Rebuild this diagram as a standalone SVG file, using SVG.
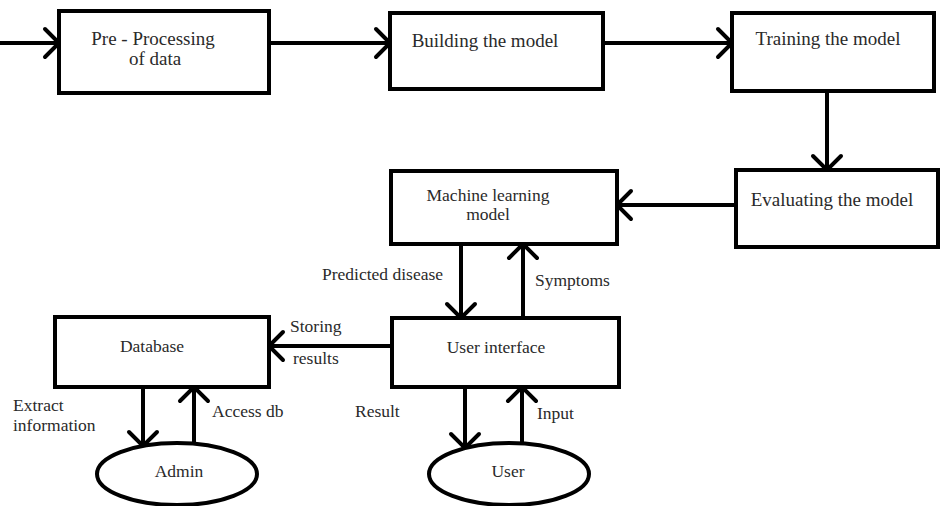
<svg xmlns="http://www.w3.org/2000/svg" width="941" height="506" viewBox="0 0 941 506">
<defs>
<marker id="chev" markerUnits="userSpaceOnUse" markerWidth="40" markerHeight="40" viewBox="-20 -20 40 40" refX="0" refY="0" orient="auto">
<path d="M-14,-14 L0,0 L-14,14" fill="none" stroke="#000" stroke-width="4" stroke-linecap="round" stroke-linejoin="miter"/>
</marker>
<style>
.box{fill:#fff;stroke:#000;stroke-width:4}
text{font-family:"Liberation Serif","DejaVu Serif","Times New Roman",serif;fill:#2a2a2a}
.t{font-size:19px}
.s{font-size:17.5px}
.mid{text-anchor:middle}
.c{fill:none;stroke:#000;stroke-width:4;marker-end:url(#chev)}
</style>
</defs>
<rect width="941" height="506" fill="#fff"/>
<g id="connectors">
<line class="c" x1="0" y1="43" x2="59" y2="43"/>
<line class="c" x1="269" y1="43" x2="390" y2="43"/>
<line class="c" x1="603" y1="43" x2="732" y2="43"/>
<line class="c" x1="827" y1="91" x2="827" y2="170"/>
<line class="c" x1="736" y1="205" x2="617" y2="205"/>
<line class="c" x1="461" y1="244" x2="461" y2="318"/>
<line class="c" x1="523" y1="318" x2="523" y2="244"/>
<line class="c" x1="392" y1="346" x2="269" y2="346"/>
<line class="c" x1="465" y1="387" x2="465" y2="448"/>
<line class="c" x1="522" y1="443" x2="522" y2="387"/>
<line class="c" x1="143" y1="387" x2="143" y2="446"/>
<line class="c" x1="194" y1="444" x2="194" y2="387"/>
<text class="s" x="322" y="280">Predicted disease</text>
<text class="s" x="535" y="286">Symptoms</text>
<text class="s" x="290" y="332">Storing</text>
<text class="s" x="293" y="364">results</text>
<text class="s" x="13" y="411">Extract</text>
<text class="s" x="13" y="431">information</text>
<text class="s" x="212" y="417">Access db</text>
<text class="s" x="355" y="417">Result</text>
<text class="s" x="537" y="419">Input</text>
</g>
<g id="preprocessing">
<rect class="box" x="59" y="11" width="210" height="82"/>
<text class="t mid" x="153" y="45">Pre - Processing</text>
<text class="t mid" x="155" y="65">of data</text>
</g>
<g id="building">
<rect class="box" x="390" y="13" width="213" height="76"/>
<text class="t mid" x="485" y="47">Building the model</text>
</g>
<g id="training">
<rect class="box" x="732" y="13" width="202" height="78"/>
<text class="t mid" x="828" y="45">Training the model</text>
</g>
<g id="evaluating">
<rect class="box" x="736" y="170" width="202" height="77"/>
<text class="t mid" x="832" y="206">Evaluating the model</text>
</g>
<g id="ml">
<rect class="box" x="391" y="171" width="226" height="73"/>
<text class="s mid" x="488" y="201">Machine learning</text>
<text class="s mid" x="488" y="220">model</text>
</g>
<g id="ui">
<rect class="box" x="392" y="318" width="227" height="69"/>
<text class="s mid" x="496" y="353">User interface</text>
</g>
<g id="database">
<rect class="box" x="55" y="317" width="214" height="70"/>
<text class="s mid" x="152" y="352">Database</text>
</g>
<g id="admin">
<ellipse class="box" cx="177" cy="474" rx="80" ry="31"/>
<text class="s mid" x="179" y="477">Admin</text>
</g>
<g id="user">
<ellipse class="box" cx="509" cy="474" rx="80" ry="31"/>
<text class="s mid" x="508" y="477">User</text>
</g>
</svg>
